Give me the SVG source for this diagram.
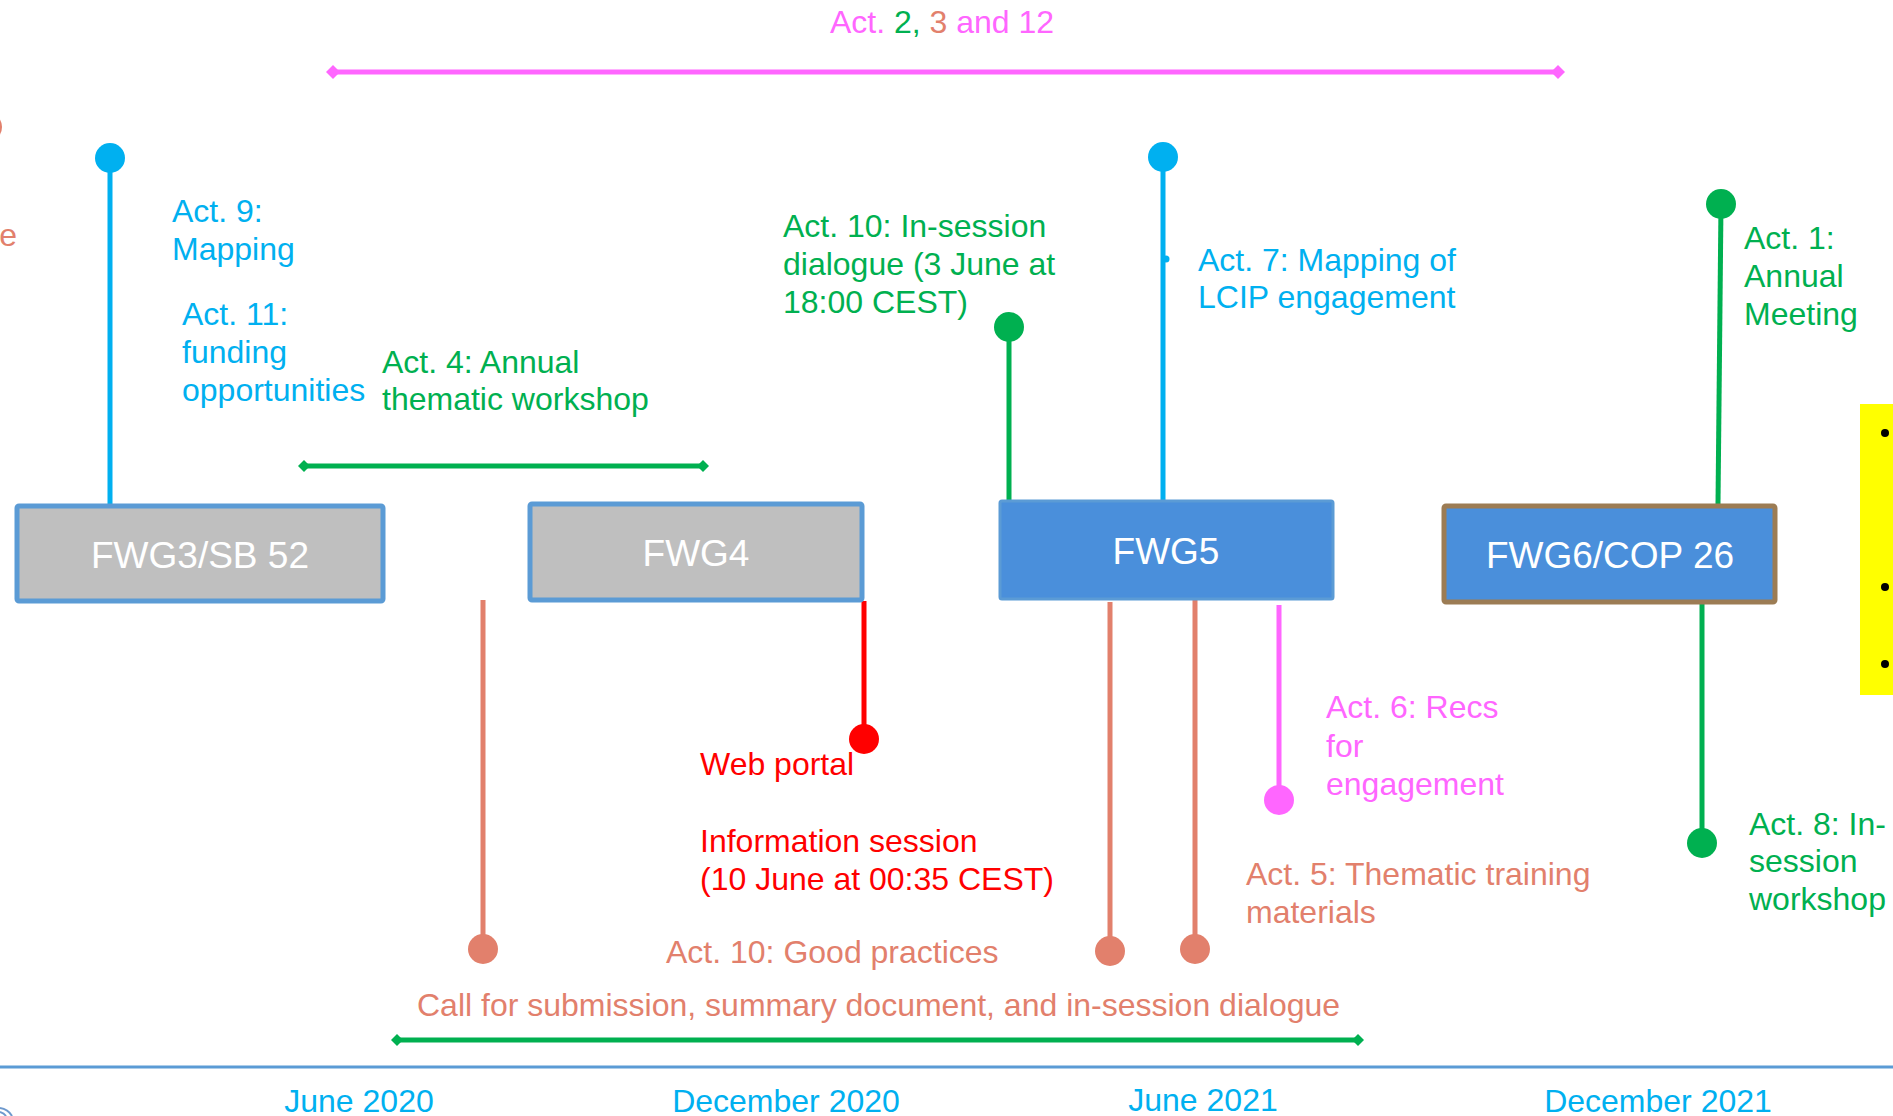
<svg xmlns="http://www.w3.org/2000/svg" width="1893" height="1116" viewBox="0 0 1893 1116">
<style>
text{font-family:"Liberation Sans",Arial,sans-serif;font-size:32px}
.blue{fill:#00B0F0}.green{fill:#00B050}.pink{fill:#FF66FF}.salmon{fill:#E2806C}.red{fill:#FF0000}
.box text{font-size:37px;fill:#FFFFFF;text-anchor:middle}
.date{fill:#00B0F0;text-anchor:middle}
.s-blue{stroke:#00B0F0}.s-green{stroke:#00B050}.s-pink{stroke:#FF66FF}.s-salmon{stroke:#E2806C}.s-red{stroke:#FF0000}
.stem{stroke-width:5;fill:none}
</style>
<defs>
<marker id="dPink" markerUnits="userSpaceOnUse" markerWidth="16" markerHeight="16" refX="8" refY="8" orient="auto"><path d="M1,8 L8,1 L15,8 L8,15 Z" fill="#FF66FF"/></marker>
<marker id="dGreen" markerUnits="userSpaceOnUse" markerWidth="14" markerHeight="14" refX="7" refY="7" orient="auto"><path d="M1,7 L7,1 L13,7 L7,13 Z" fill="#00B050"/></marker>
</defs>
<rect width="1893" height="1116" fill="#FFFFFF"/>

<!-- timeline -->
<g id="timeline">
<line x1="0" y1="1067" x2="1893" y2="1067" stroke="#5B9BD5" stroke-width="3"/>
<text class="date" x="359" y="1112">June 2020</text>
<text class="date" x="786" y="1112">December 2020</text>
<text class="date" x="1203" y="1111">June 2021</text>
<text class="date" x="1658" y="1112">December 2021</text>
<path d="M0,1108 Q8,1109 12,1116 M0,1112 Q4,1113 6,1116" stroke="#4A7FC0" stroke-width="2" fill="none" opacity="0.8"/>
</g>

<!-- connectors -->
<g id="connectors">
<line x1="333" y1="72" x2="1558" y2="72" stroke="#FF66FF" stroke-width="5" marker-start="url(#dPink)" marker-end="url(#dPink)"/>
<line x1="304" y1="466" x2="703" y2="466" stroke="#00B050" stroke-width="5" marker-start="url(#dGreen)" marker-end="url(#dGreen)"/>
<line x1="397" y1="1040" x2="1358" y2="1040" stroke="#00B050" stroke-width="5" marker-start="url(#dGreen)" marker-end="url(#dGreen)"/>

<line class="stem s-blue" x1="110" y1="158" x2="110" y2="505"/>
<circle cx="110" cy="158" r="15" class="blue"/>

<line class="stem s-blue" x1="1163" y1="157" x2="1163" y2="500"/>
<circle cx="1163" cy="157" r="15" class="blue"/>
<circle cx="1166" cy="259" r="3.5" class="blue"/>

<line class="stem s-green" x1="1009" y1="327" x2="1009" y2="500"/>
<circle cx="1009" cy="327" r="15" class="green"/>

<line class="stem s-green" x1="1721" y1="204" x2="1718" y2="504"/>
<circle cx="1721" cy="204" r="15" class="green"/>

<line class="stem s-green" x1="1702" y1="604" x2="1702" y2="843"/>
<circle cx="1702" cy="843" r="15" class="green"/>

<line class="stem s-red" x1="864" y1="601" x2="864" y2="739"/>
<circle cx="864" cy="739" r="15" class="red"/>

<line class="stem s-salmon" x1="483" y1="600" x2="483" y2="949" stroke-width="5.5"/>
<circle cx="483" cy="949" r="15" class="salmon"/>
<line class="stem s-salmon" x1="1110" y1="602" x2="1110" y2="951" stroke-width="5.5"/>
<circle cx="1110" cy="951" r="15" class="salmon"/>
<line class="stem s-salmon" x1="1195" y1="600" x2="1195" y2="949" stroke-width="5.5"/>
<circle cx="1195" cy="949" r="15" class="salmon"/>

<line class="stem s-pink" x1="1279" y1="605" x2="1279" y2="800"/>
<circle cx="1279" cy="800" r="15" class="pink"/>

<circle cx="-13" cy="127" r="15" class="salmon"/>
</g>

<!-- nodes -->
<g id="fwg3" class="box">
<rect x="17" y="506" width="366" height="95" fill="#BFBFBF" stroke="#5B9BD5" stroke-width="5" rx="2"/>
<text x="200" y="568">FWG3/SB 52</text>
</g>
<g id="fwg4" class="box">
<rect x="530" y="504" width="332" height="96" fill="#BFBFBF" stroke="#5B9BD5" stroke-width="5" rx="2"/>
<text x="696" y="566">FWG4</text>
</g>
<g id="fwg5" class="box">
<rect x="1000" y="501" width="333" height="98" fill="#4A8FDB" stroke="#5B9BD5" stroke-width="3" rx="2"/>
<text x="1166" y="564">FWG5</text>
</g>
<g id="fwg6" class="box">
<rect x="1444" y="506" width="331" height="96" fill="#4A8FDB" stroke="#9C7C54" stroke-width="5" rx="2"/>
<text x="1610" y="568">FWG6/COP 26</text>
</g>

<g id="yellow-note">
<rect x="1860" y="404" width="40" height="291" fill="#FFFF00"/>
<circle cx="1885" cy="433" r="4" fill="#000"/>
<circle cx="1885" cy="587" r="4" fill="#000"/>
<circle cx="1885" cy="664" r="4" fill="#000"/>
</g>

<!-- labels -->
<g id="labels">
<text x="942" y="33" text-anchor="middle"><tspan class="pink">Act. </tspan><tspan class="green">2,</tspan><tspan class="pink"> </tspan><tspan class="salmon">3</tspan><tspan class="pink"> and 12</tspan></text>

<text class="salmon" x="17" y="246" text-anchor="end">e</text>

<text class="blue" x="172" y="222">Act. 9:</text>
<text class="blue" x="172" y="260">Mapping</text>

<text class="blue" x="182" y="325">Act. 11:</text>
<text class="blue" x="182" y="363">funding</text>
<text class="blue" x="182" y="401">opportunities</text>

<text class="green" x="382" y="373">Act. 4: Annual</text>
<text class="green" x="382" y="410">thematic workshop</text>

<text class="green" x="783" y="237">Act. 10: In-session</text>
<text class="green" x="783" y="275">dialogue (3 June at</text>
<text class="green" x="783" y="313">18:00 CEST)</text>

<text class="blue" x="1198" y="271">Act. 7: Mapping of</text>
<text class="blue" x="1198" y="308">LCIP engagement</text>

<text class="green" x="1744" y="249">Act. 1:</text>
<text class="green" x="1744" y="287">Annual</text>
<text class="green" x="1744" y="325">Meeting</text>

<text class="red" x="700" y="775">Web portal</text>
<text class="red" x="700" y="852">Information session</text>
<text class="red" x="700" y="890">(10 June at 00:35 CEST)</text>

<text class="pink" x="1326" y="718">Act. 6: Recs</text>
<text class="pink" x="1326" y="757">for</text>
<text class="pink" x="1326" y="795">engagement</text>

<text class="salmon" x="1246" y="885">Act. 5: Thematic training</text>
<text class="salmon" x="1246" y="923">materials</text>

<text class="salmon" x="666" y="963">Act. 10: Good practices</text>
<text class="salmon" x="417" y="1016">Call for submission, summary document, and in-session dialogue</text>

<text class="green" x="1749" y="835">Act. 8: In-</text>
<text class="green" x="1749" y="872">session</text>
<text class="green" x="1749" y="910">workshop</text>
</g>
</svg>
